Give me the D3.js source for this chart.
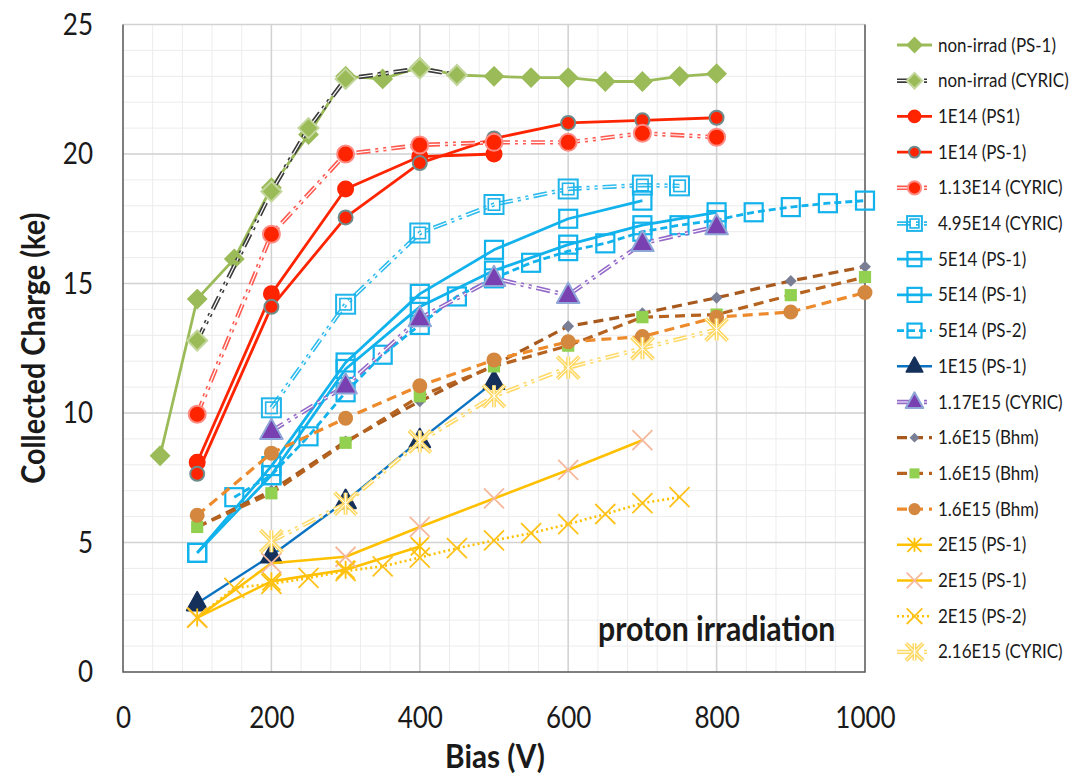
<!DOCTYPE html>
<html>
<head>
<meta charset="utf-8">
<script src="https://cdn.jsdelivr.net/npm/d3@7"></script>
<style>
  body { margin: 0; background: #fff; }
  text { font-family: Lato, "Open Sans", sans-serif; fill: #1a1a1a; }
</style>
</head>
<body>
<svg id="chart" width="1076" height="779"></svg>
<script>
// ---- data (Bias in V, collected charge in ke) ----
const vNonIrrPS1 = [50, 100, 150, 200, 250, 300, 350, 400, 450, 500, 550, 600, 650, 700, 750, 800];
const qNonIrrPS1 = [8.35, 14.4, 15.95, 18.7, 20.75, 23.0, 22.9, 23.35, 23.05, 23.0, 22.95, 22.95, 22.8, 22.8, 23.0, 23.1];
const vNonIrrCY = [100, 200, 250, 300, 400, 450];
const qNonIrrCY = [12.8, 18.55, 21.0, 22.9, 23.3, 23.05];

const v100to800 = [100, 200, 300, 400, 500, 600, 700, 800];
const q1E14PS1 = [8.1, 14.6, 18.65, 19.9, 20.0];
const q1E14PSm1 = [7.65, 14.1, 17.55, 19.65, 20.6, 21.2, 21.3, 21.4];
const q113E14CY = [9.95, 16.9, 20.0, 20.35, 20.45, 20.45, 20.8, 20.65];

const v495E14CY = [200, 300, 400, 500, 600, 700, 750];
const q495E14CY = [10.2, 14.2, 16.95, 18.05, 18.65, 18.8, 18.77];
const q5E14PS1a = [4.6, 7.95, 11.95, 14.6, 16.3, 17.5, 18.2];
const q5E14PS1b = [4.6, 7.6, 11.7, 14.1, 15.5, 16.5, 17.25, 17.75];
const v5E14PS2 = [150, 200, 250, 300, 350, 400, 450, 500, 550, 600, 650, 700, 750, 800, 850, 900, 950, 1000];
const q5E14PS2 = [6.75, 7.6, 9.1, 10.8, 12.25, 13.4, 14.5, 15.2, 15.8, 16.25, 16.55, 17.0, 17.25, 17.45, 17.75, 17.95, 18.1, 18.2];

const q1E15PS1 = [2.65, 4.5, 6.6, 8.95, 11.2];
const v117E15CY = [200, 300, 400, 500, 600, 700, 800];
const q117E15CY = [9.3, 11.05, 13.65, 15.2, 14.55, 16.55, 17.2];

const v100to1000 = [100, 200, 300, 400, 500, 600, 700, 800, 900, 1000];
const q16E15Bhm1 = [5.6, 7.0, 8.9, 10.45, 11.85, 13.35, 13.85, 14.45, 15.1, 15.65];
const q16E15Bhm2 = [5.6, 6.9, 8.85, 10.65, 11.8, 12.6, 13.7, 13.8, 14.55, 15.25];
const q16E15Bhm3 = [6.05, 8.45, 9.8, 11.05, 12.05, 12.75, 12.95, 13.7, 13.9, 14.65];

const q2E15PS1a = [2.1, 3.5, 3.95, 4.85];
const q2E15PS1b = [2.1, 4.2, 4.45, 5.6, 6.7, 7.8, 8.95];
const v2E15PS2 = [100, 150, 200, 250, 300, 350, 400, 450, 500, 550, 600, 650, 700, 750];
const q2E15PS2 = [2.1, 3.25, 3.4, 3.63, 3.9, 4.08, 4.42, 4.78, 5.08, 5.36, 5.71, 6.1, 6.52, 6.75];
const v216E15CY = [200, 300, 400, 500, 600, 700, 800];
const q216E15CY = [5.05, 6.5, 8.9, 10.65, 11.75, 12.5, 13.22];

const xTicks = [0, 200, 400, 600, 800, 1000];
const yTicks = [0, 5, 10, 15, 20, 25];

// ---- series styling ----
const CYDASH = "14,5,3,5,3,5";
const series = [
  {name: "non-irrad (PS-1)", v: vNonIrrPS1, q: qNonIrrPS1, color: "#9BBB59", w: 2.8, mk: "diamond", fill: "#9BBB59", stroke: "#9BBB59", size: 9},
  {name: "non-irrad (CYRIC)", v: vNonIrrCY, q: qNonIrrCY, color: "#3a3a3a", w: 4.4, dash: CYDASH, dbl: true, mk: "diamond", fill: "#9BBB59", stroke: "#C3D69B", size: 10},
  {name: "1E14 (PS1)", v: v100to800, q: q1E14PS1, color: "#FF2400", w: 2.8, mk: "circle", fill: "#FF2400", stroke: "#FF2400", size: 7.5},
  {name: "1E14 (PS-1)", v: v100to800, q: q1E14PSm1, color: "#FF2400", w: 2.8, mk: "circle", fill: "#FF2400", stroke: "#6E8C8C", size: 7},
  {name: "1.13E14 (CYRIC)", v: v100to800, q: q113E14CY, color: "#FF5A50", w: 4.4, dash: CYDASH, dbl: true, mk: "circle", fill: "#FF2400", stroke: "#FF8C84", size: 8.5},
  {name: "4.95E14 (CYRIC)", v: v495E14CY, q: q495E14CY, color: "#2DBBEE", w: 4.4, dash: CYDASH, dbl: true, mk: "dsquare", fill: "none", stroke: "#1FB4EA", size: 9.5},
  {name: "5E14 (PS-1)", v: v100to800, q: q5E14PS1a, color: "#12B2EC", w: 2.8, mk: "square", fill: "none", stroke: "#12B2EC", size: 9},
  {name: "5E14 (PS-1)", v: v100to800, q: q5E14PS1b, color: "#12B2EC", w: 2.8, mk: "square", fill: "none", stroke: "#12B2EC", size: 9},
  {name: "5E14 (PS-2)", v: v5E14PS2, q: q5E14PS2, color: "#12B2EC", w: 2.8, dash: "7,4", mk: "square", fill: "none", stroke: "#12B2EC", size: 9},
  {name: "1E15 (PS-1)", v: v100to800, q: q1E15PS1, color: "#0A72C2", w: 2.4, mk: "triangle", fill: "#15305A", stroke: "#15305A", size: 11.5},
  {name: "1.17E15 (CYRIC)", v: v117E15CY, q: q117E15CY, color: "#9468C8", w: 4.4, dash: CYDASH, dbl: true, mk: "triangle", fill: "#7840B0", stroke: "#8FA6D8", size: 12.5},
  {name: "1.6E15 (Bhm)", v: v100to1000, q: q16E15Bhm1, color: "#A85A1E", w: 3.2, dash: "10,6", mk: "diamond", fill: "#7A7F95", stroke: "#7A7F95", size: 4.5},
  {name: "1.6E15 (Bhm)", v: v100to1000, q: q16E15Bhm2, color: "#B5631F", w: 3.2, dash: "10,6", mk: "square", fill: "#92D050", stroke: "#92D050", size: 5},
  {name: "1.6E15 (Bhm)", v: v100to1000, q: q16E15Bhm3, color: "#EC8A2C", w: 3.2, dash: "10,6", mk: "circle", fill: "#D4883F", stroke: "#D4883F", size: 6.5},
  {name: "2E15 (PS-1)", v: v100to800, q: q2E15PS1a, color: "#FFC000", w: 2.6, mk: "asterisk", fill: "none", stroke: "#FFC000", size: 9},
  {name: "2E15 (PS-1)", v: v100to800, q: q2E15PS1b, color: "#FFC000", w: 2.6, mk: "x", fill: "none", stroke: "#F6B89C", size: 10},
  {name: "2E15 (PS-2)", v: v2E15PS2, q: q2E15PS2, color: "#FFC000", w: 2.6, dash: "2,3", mk: "x", fill: "none", stroke: "#FFC21A", size: 10},
  {name: "2.16E15 (CYRIC)", v: v216E15CY, q: q216E15CY, color: "#FFD966", w: 4.4, dash: CYDASH, dbl: true, mk: "xstar", fill: "none", stroke: "#FFD966", size: 11}
];

// ---- layout ----
const svg = d3.select("#chart");
svg.append("rect").attr("width", 1076).attr("height", 779).attr("fill", "#fff");

const x = d3.scaleLinear().domain([0, 1000]).range([123, 865]);
const y = d3.scaleLinear().domain([0, 25]).range([672, 24.5]);

function squeeze(sel, k) {
  sel.each(function() {
    const L = this.getComputedTextLength();
    if (L > 0) d3.select(this).attr("textLength", L * k).attr("lengthAdjust", "spacingAndGlyphs");
  });
}

// grid
const grid = svg.append("g");
grid.selectAll(".vmin").data(d3.range(40, 1000, 40)).enter().append("line")
  .attr("x1", d => x(d)).attr("x2", d => x(d)).attr("y1", y(0)).attr("y2", y(25))
  .attr("stroke", "#ececec").attr("stroke-width", 1);
grid.selectAll(".hmin").data(d3.range(1, 25, 1)).enter().append("line")
  .attr("y1", d => y(d)).attr("y2", d => y(d)).attr("x1", x(0)).attr("x2", x(1000))
  .attr("stroke", "#ececec").attr("stroke-width", 1);
grid.selectAll(".vmaj").data(xTicks.slice(1, -1)).enter().append("line")
  .attr("x1", d => x(d)).attr("x2", d => x(d)).attr("y1", y(0)).attr("y2", y(25))
  .attr("stroke", "#d2d2d2").attr("stroke-width", 1.5);
grid.selectAll(".hmaj").data(yTicks.slice(1)).enter().append("line")
  .attr("y1", d => y(d)).attr("y2", d => y(d)).attr("x1", x(0)).attr("x2", x(1000))
  .attr("stroke", "#d2d2d2").attr("stroke-width", 1.5);

// frame
svg.append("path")
  .attr("d", `M${x(0)},${y(25)}V${y(0)}H${x(1000)}V${y(25)}`)
  .attr("fill", "none").attr("stroke", "#555").attr("stroke-width", 1.5);

// axes
const xAxis = svg.append("g").attr("transform", `translate(0,${y(0)})`)
  .call(d3.axisBottom(x).tickValues(xTicks).tickFormat(d3.format("d")).tickSize(0).tickPadding(34));
const yAxis = svg.append("g").attr("transform", `translate(${x(0)},0)`)
  .call(d3.axisLeft(y).tickValues(yTicks).tickFormat(d3.format("d")).tickSize(0).tickPadding(30));
[xAxis, yAxis].forEach(a => {
  a.select(".domain").remove();
  a.selectAll("text").attr("font-size", 31).attr("font-family", "Lato, sans-serif").attr("fill", "#1a1a1a");
  squeeze(a.selectAll("text"), 0.84);
});

// titles
const yTitle = svg.append("text").attr("transform", `translate(45,${(y(0) + y(25)) / 2}) rotate(-90)`)
  .attr("text-anchor", "middle").attr("font-size", 32).attr("font-weight", "bold")
  .text("Collected Charge (ke)");
squeeze(yTitle, 0.9);
const xTitle = svg.append("text").attr("x", 495).attr("y", 768)
  .attr("text-anchor", "middle").attr("font-size", 32).attr("font-weight", "bold")
  .text("Bias (V)");
squeeze(xTitle, 0.93);
const note = svg.append("text").attr("x", 598).attr("y", 641)
  .attr("font-size", 34).attr("font-weight", "bold")
  .text("proton irradiation");
squeeze(note, 0.89);

// markers
function marker(g, s, cx, cy, k) {
  const r = s.size * k;
  const m = g.append("g").attr("transform", `translate(${cx},${cy})`);
  if (s.mk === "diamond") {
    m.append("path").attr("d", `M0,${-r}L${r},0L0,${r}L${-r},0Z`)
      .attr("fill", s.fill).attr("stroke", s.stroke).attr("stroke-width", 2);
  } else if (s.mk === "circle") {
    m.append("circle").attr("r", r).attr("fill", s.fill).attr("stroke", s.stroke).attr("stroke-width", 2);
  } else if (s.mk === "square") {
    m.append("rect").attr("x", -r).attr("y", -r).attr("width", 2 * r).attr("height", 2 * r)
      .attr("fill", s.fill).attr("stroke", s.stroke).attr("stroke-width", 2.2);
  } else if (s.mk === "dsquare") {
    m.append("rect").attr("x", -r).attr("y", -r).attr("width", 2 * r).attr("height", 2 * r)
      .attr("fill", "none").attr("stroke", s.stroke).attr("stroke-width", 2);
    m.append("rect").attr("x", -r * 0.6).attr("y", -r * 0.6).attr("width", 1.2 * r).attr("height", 1.2 * r)
      .attr("fill", "none").attr("stroke", s.stroke).attr("stroke-width", 1.6);
  } else if (s.mk === "triangle") {
    m.append("path").attr("d", `M0,${-r}L${r * 0.9},${r * 0.62}L${-r * 0.9},${r * 0.62}Z`)
      .attr("fill", s.fill).attr("stroke", s.stroke).attr("stroke-width", 2).attr("stroke-linejoin", "round");
  } else {
    let d = `M${-r},${-r}L${r},${r}M${-r},${r}L${r},${-r}`;
    if (s.mk === "asterisk" || s.mk === "xstar") d += `M0,${-r}L0,${r}`;
    if (s.mk === "xstar") {
      m.append("path").attr("d", d).attr("stroke", s.stroke).attr("stroke-width", 4).attr("fill", "none");
      m.append("path").attr("d", d).attr("stroke", "#fff").attr("stroke-width", 1).attr("fill", "none");
    } else {
      m.append("path").attr("d", d).attr("stroke", s.stroke).attr("stroke-width", 1.8).attr("fill", "none");
    }
  }
}

function stroke(g, s, d) {
  g.append("path").attr("d", d).attr("fill", "none").attr("stroke", s.color)
    .attr("stroke-width", s.w).attr("stroke-dasharray", s.dash || null).attr("stroke-linejoin", "round");
  if (s.dbl) {
    g.append("path").attr("d", d).attr("fill", "none").attr("stroke", "#fff")
      .attr("stroke-width", 1.2).attr("stroke-dasharray", s.dash || null);
  }
}

// series
const line = d3.line().x(d => x(d[0])).y(d => y(d[1]));
const plot = svg.append("g");
series.forEach(s => {
  const pts = s.q.map((q, i) => [s.v[i], q]);
  const g = plot.append("g");
  stroke(g, s, line(pts));
  pts.forEach(p => marker(g, s, x(p[0]), y(p[1]), 1));
});

// legend (labels narrowed with a horizontal scale so they stay inside the page)
const legend = svg.append("g");
series.forEach((s, i) => {
  const ly = 45 + i * 35.7;
  const g = legend.append("g");
  stroke(g, s, `M897,${ly}H932`);
  marker(g, s, 914.5, ly, 0.78);
  g.append("text").attr("transform", `translate(938,${ly + 6.5}) scale(0.87,1)`)
    .attr("font-size", 19.5).attr("fill", "#262626").text(s.name);
});
</script>
</body>
</html>
